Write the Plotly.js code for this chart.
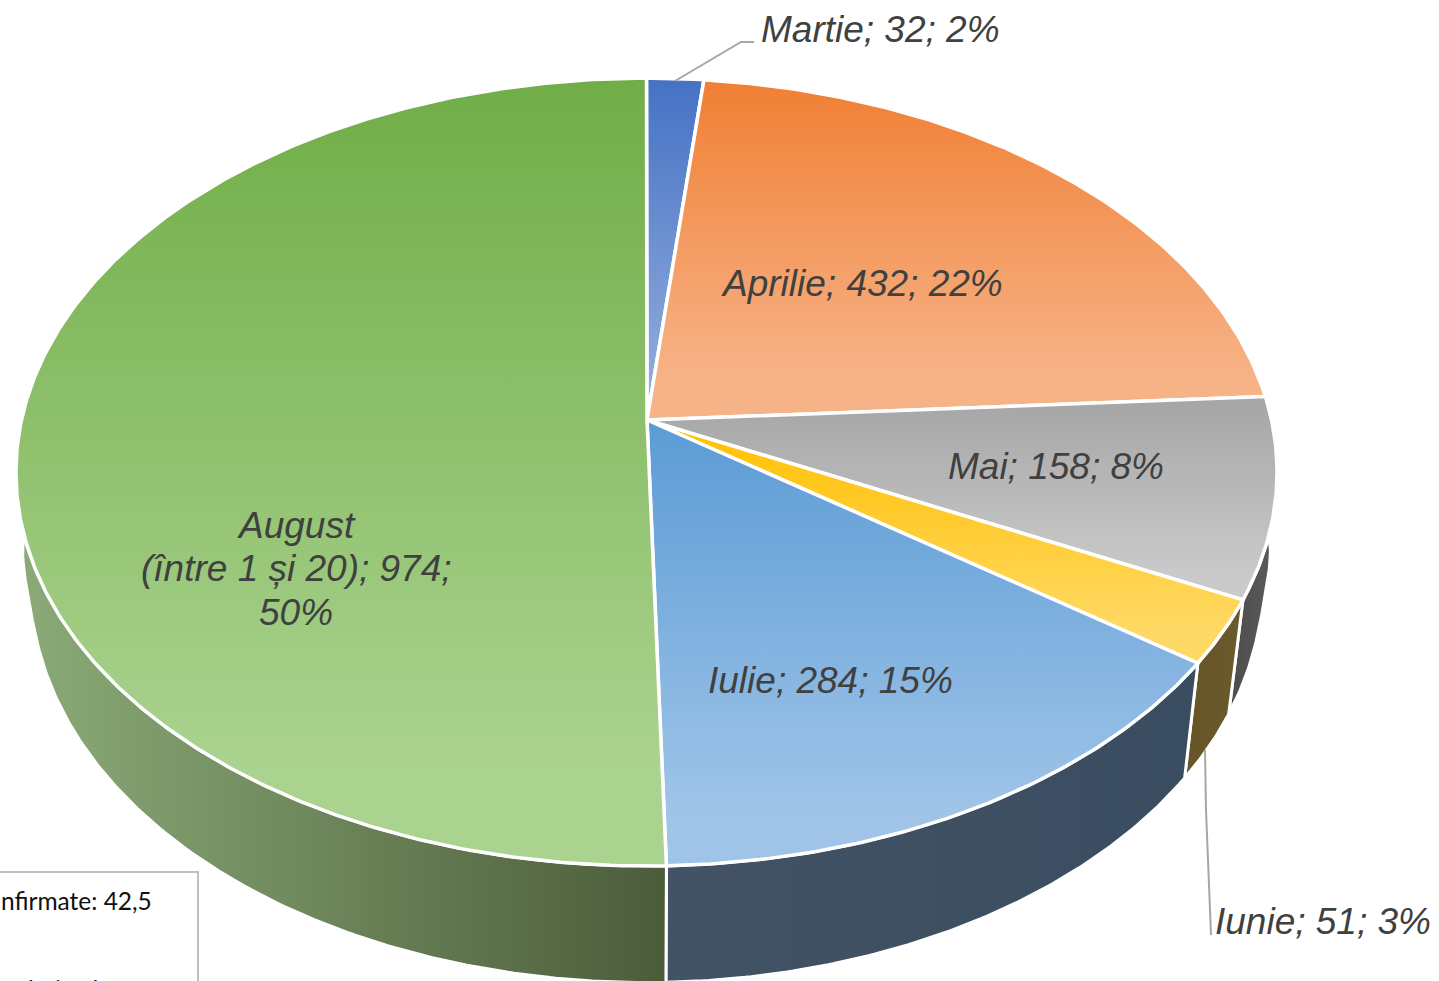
<!DOCTYPE html>
<html>
<head>
<meta charset="utf-8">
<script src="https://cdn.plot.ly/plotly-3.0.1.min.js"></script>
<style>html,body{margin:0;padding:0;background:#fff;overflow:hidden}#chart{width:1439px;height:981px}</style>
</head>
<body>
<div id="chart"></div>
<script>
const categories = ["Martie", "Aprilie", "Mai", "Iunie", "Iulie", "August"];
const values = [32, 432, 158, 51, 284, 974];
const labelTexts = ["Martie; 32; 2%", "Aprilie; 432; 22%", "Mai; 158; 8%", "Iunie; 51; 3%", "Iulie; 284; 15%", "August", "(între 1 și 20); 974;", "50%"];
const labelX = [880, 862, 1056, 1323, 830, 296, 296, 296];
const labelY = [29, 283, 466, 921, 680, 525, 568, 612];
const topStart = ["#4472c4", "#f07f33", "#a5a5a5", "#ffc000", "#5b9bd5", "#70ad47"];
const topEnd = ["#8faadc", "#f7b388", "#cacaca", "#ffd966", "#9fc4e8", "#abd390"];
const wallStart = ["#2f5597", "#a85a20", "#4c4c4c", "#655527", "#435365", "#8cab78"];
const wallEnd = ["#2f5597", "#a85a20", "#5c5c5c", "#6b5a2b", "#3a4c60", "#4b5c3a"];

// Perspective of the tilted disc, in page pixels
const CX = 646.5, P = 0.1323;
const topRim = {A: 625, K: 387, Y: 420, bulge: 0};
const lowRim = {A: 610, K: 390, Y: 533, bulge: 12};
function proj(rim, deg) {
  const t = deg * Math.PI / 180, u = Math.sin(t), v = Math.cos(t), d = 1 + P * v;
  const side = rim.bulge * Math.sign(u) * Math.exp(-Math.pow(v / 0.14, 2));
  return [CX + rim.A * u / d + side, rim.Y - rim.K * v / d];
}
const total = values.reduce((a, b) => a + b, 0);
const STEP = 0.5;
const traces = [];
function arc(rim, a, b) {
  const n = Math.max(2, Math.ceil((b - a) / STEP)), pts = [];
  for (let i = 0; i <= n; i++) pts.push(proj(rim, a + (b - a) * i / n));
  return pts;
}
let acc = 0;
const spans = values.map(v => { const a = acc; acc += v; return [a / total * 360, acc / total * 360]; });

// side walls first; the two back slices have no visible wall
spans.forEach(([a, b], i) => {
  if (i < 2) return;
  const pts = arc(topRim, a, b).concat(arc(lowRim, a, b).reverse());
  pts.push(pts[0]);
  traces.push({
    type: "scatter", mode: "lines", x: pts.map(p => p[0]), y: pts.map(p => p[1]),
    fill: "toself", line: {color: "#ffffff", width: 3}, hoverinfo: "skip", showlegend: false,
    fillgradient: {type: "horizontal", colorscale: [[0, wallStart[i]], [1, wallEnd[i]]]}
  });
});
// top faces
spans.forEach(([a, b], i) => {
  const pts = [[647, topRim.Y]].concat(arc(topRim, a, b));
  pts.push(pts[0]);
  traces.push({
    type: "scatter", mode: "lines", name: categories[i], x: pts.map(p => p[0]), y: pts.map(p => p[1]),
    fill: "toself", line: {color: "#ffffff", width: 3.5}, hoverinfo: "skip", showlegend: false,
    fillgradient: {type: "vertical", colorscale: [[0, topEnd[i]], [0.12, topEnd[i]], [1, topStart[i]]]}
  });
});
// leader lines
traces.push({type: "scatter", mode: "lines", x: [675, 741, 754], y: [81, 42, 42], line: {color: "#a6a6a6", width: 2}, hoverinfo: "skip", showlegend: false});
traces.push({type: "scatter", mode: "lines", x: [1205, 1206, 1211], y: [750, 810, 935], line: {color: "#a6a6a6", width: 2}, hoverinfo: "skip", showlegend: false});

const annotations = labelTexts.map((t, i) => ({
  x: labelX[i], y: labelY[i], xref: "x", yref: "y", text: "<i>" + t + "</i>", showarrow: false,
  font: {family: "Liberation Sans, Arial, sans-serif", size: 37, color: "#404040"}, align: "center", xanchor: "center", yanchor: "middle"
}));
annotations.push({
  x: 154, y: 900, xref: "x", yref: "y", text: "nfirmate: 42,5", showarrow: false,
  font: {family: "Lato, sans-serif", size: 24.5, color: "#111111"}, xanchor: "right", yanchor: "middle"
});
annotations.push({
  x: 26, y: 973, xref: "x", yref: "y", text: "lative l", showarrow: false,
  font: {family: "Lato, sans-serif", size: 24.5, color: "#111111"}, xanchor: "left", yanchor: "top"
});

Plotly.newPlot("chart", traces, {
  width: 1439, height: 981, margin: {l: 0, r: 0, t: 0, b: 0},
  paper_bgcolor: "#ffffff", plot_bgcolor: "#ffffff", showlegend: false,
  xaxis: {range: [0, 1439], visible: false, fixedrange: true},
  yaxis: {range: [981, 0], visible: false, fixedrange: true},
  shapes: [{type: "rect", xref: "x", yref: "y", x0: -5, x1: 198, y0: 872, y1: 1000, line: {color: "#bfbfbf", width: 2}, fillcolor: "#ffffff", layer: "below"}],
  annotations
}, {displayModeBar: false, staticPlot: true});
</script>
</body>
</html>
